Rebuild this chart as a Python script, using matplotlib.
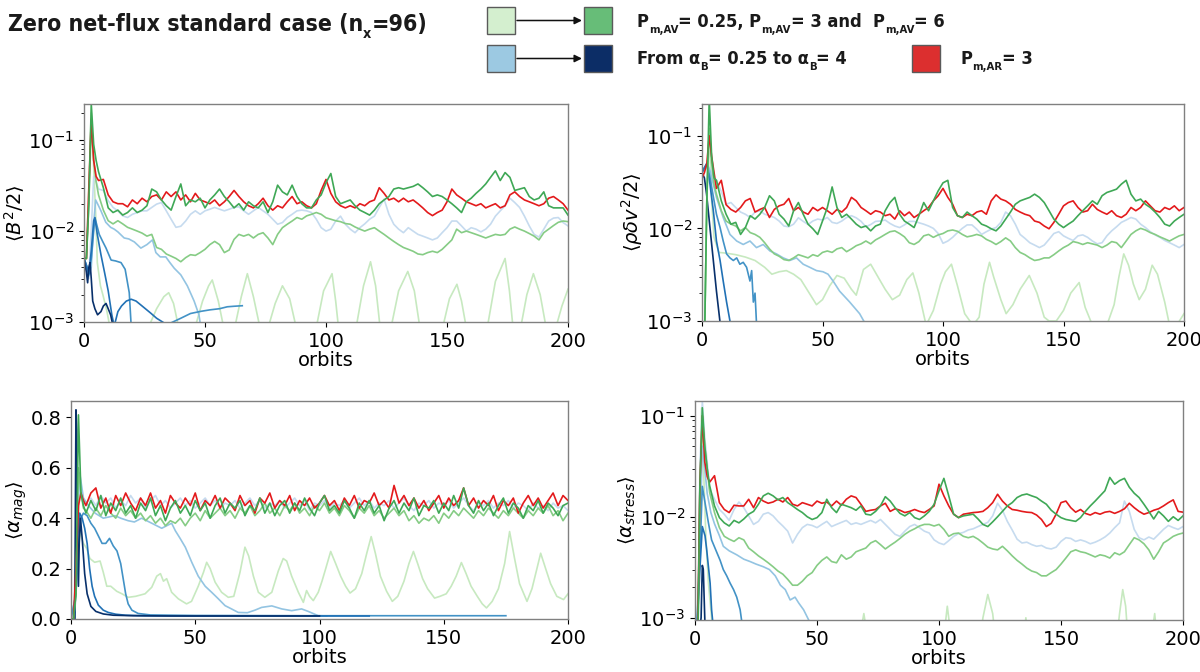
import os
import numpy as np
import matplotlib
matplotlib.use("Agg")
import matplotlib.pyplot as plt
from matplotlib import font_manager
from matplotlib.patches import Rectangle, FancyArrowPatch
from matplotlib.font_manager import FontProperties

# ---------------------------------------------------------------- time grids
T_SAT = [0, 1, 2, 3, 4, 5] + list(range(6, 201, 2))
X_TICKS = [0, 50, 100, 150, 200]
BL_YTICKS = [0.0, 0.2, 0.4, 0.6, 0.8]

# ---------------------------------------------------------------- colours
C_G1, C_G2, C_G3 = '#c7e9c0', '#86cc85', '#3fa856'
C_B1, C_B2, C_B3, C_B4, C_B5 = '#c6dbef', '#93c4e2', '#4292c6', '#2171b5', '#08306b'
C_R = '#e31a1c'

# ================================================================ <B^2/2>
tl_red = [0.005, 0.005, 0.03, 0.17, 0.06, 0.04,
          0.036, 0.037, 0.025, 0.021, 0.020, 0.020, 0.0185, 0.022, 0.020, 0.023,
          0.021, 0.024, 0.025, 0.022, 0.027, 0.024, 0.027, 0.022, 0.025, 0.021,
          0.026, 0.022, 0.021, 0.020, 0.022, 0.019, 0.021, 0.024, 0.028, 0.024,
          0.021, 0.019, 0.018, 0.020, 0.023, 0.019, 0.017, 0.019, 0.018, 0.021,
          0.024, 0.020, 0.021, 0.019, 0.018, 0.020, 0.028, 0.037, 0.026, 0.021,
          0.019, 0.018, 0.019, 0.018, 0.020, 0.019, 0.021, 0.022, 0.030, 0.026,
          0.022, 0.023, 0.021, 0.023, 0.021, 0.022, 0.020, 0.018, 0.016, 0.0148,
          0.016, 0.017, 0.021, 0.029, 0.025, 0.023, 0.021, 0.020, 0.019, 0.020,
          0.018, 0.019, 0.020, 0.018, 0.019, 0.025, 0.027, 0.024, 0.022, 0.021,
          0.020, 0.019, 0.020, 0.023, 0.024, 0.022, 0.020, 0.017]
tl_g3 = [0.005, 0.005, 0.02, 0.25, 0.09, 0.06,
         0.045, 0.03, 0.018, 0.016, 0.017, 0.015, 0.016, 0.018, 0.016, 0.017,
         0.019, 0.029, 0.027, 0.022, 0.019, 0.017, 0.024, 0.033, 0.019, 0.022,
         0.021, 0.023, 0.018, 0.022, 0.025, 0.029, 0.024, 0.021, 0.018, 0.020,
         0.017, 0.021, 0.019, 0.018, 0.021, 0.016, 0.021, 0.032, 0.027, 0.025,
         0.032, 0.024, 0.020, 0.018, 0.018, 0.022, 0.025, 0.034, 0.043, 0.024,
         0.020, 0.021, 0.022, 0.019, 0.017, 0.016, 0.015, 0.017, 0.020, 0.022,
         0.024, 0.029, 0.030, 0.029, 0.030, 0.031, 0.033, 0.030, 0.027, 0.024,
         0.025, 0.024, 0.022, 0.020, 0.018, 0.016, 0.021, 0.023, 0.026, 0.029,
         0.033, 0.039, 0.046, 0.036, 0.044, 0.039, 0.028, 0.029, 0.030, 0.024,
         0.022, 0.023, 0.027, 0.019, 0.018, 0.018, 0.018, 0.015]
tl_g2 = [0.005, 0.005, 0.02, 0.15, 0.06, 0.035,
         0.025, 0.017, 0.013, 0.012, 0.013, 0.012, 0.011, 0.0105, 0.010, 0.0095,
         0.0088, 0.0092, 0.0066, 0.0063, 0.0056, 0.0053, 0.0050, 0.0046, 0.0051, 0.0055,
         0.0054, 0.0058, 0.0063, 0.0071, 0.0077, 0.0071, 0.0058, 0.0062, 0.0081, 0.0092,
         0.0088, 0.0092, 0.0084, 0.0092, 0.0096, 0.0084, 0.0071, 0.0092, 0.0109, 0.0119,
         0.0129, 0.0141, 0.0135, 0.0147, 0.0153, 0.016, 0.0153, 0.014, 0.0135, 0.013,
         0.0127, 0.0121, 0.0119, 0.0111, 0.0105, 0.010, 0.0105, 0.0109, 0.010, 0.0092,
         0.0084, 0.0077, 0.0071, 0.0066, 0.0063, 0.0060, 0.0056, 0.0055, 0.0058, 0.0060,
         0.0058, 0.0063, 0.0071, 0.0080, 0.0105, 0.0096, 0.010, 0.0096, 0.0092, 0.0088,
         0.0084, 0.0088, 0.0092, 0.009, 0.0092, 0.0105, 0.0111, 0.0105, 0.010, 0.0094,
         0.0088, 0.008, 0.0096, 0.0105, 0.0115, 0.0125, 0.0129, 0.0127]
tl_b1 = [0.005, 0.004, 0.003, 0.01, 0.04, 0.035,
         0.029, 0.028, 0.0216, 0.0182, 0.0167, 0.0147, 0.0141, 0.0153, 0.016, 0.0167,
         0.0167, 0.0182, 0.0198, 0.0206, 0.0167, 0.0135, 0.011, 0.0113, 0.0129, 0.0153,
         0.0167, 0.0153, 0.0167, 0.0174, 0.0182, 0.0174, 0.0167, 0.0174, 0.0182, 0.0185,
         0.0167, 0.0153, 0.0167, 0.0182, 0.0167, 0.0153, 0.0135, 0.0119, 0.0124, 0.0141,
         0.0153, 0.0167, 0.017, 0.0167, 0.016, 0.0135, 0.0109, 0.010, 0.0105, 0.0129,
         0.0146, 0.0119, 0.0105, 0.0096, 0.0109, 0.012, 0.0135, 0.0146, 0.0182, 0.0225,
         0.0153, 0.0119, 0.0105, 0.0096, 0.0109, 0.010, 0.0092, 0.0088, 0.0084, 0.008,
         0.0084, 0.0096, 0.0109, 0.0129, 0.0129, 0.0114, 0.010, 0.0109, 0.0105, 0.0098,
         0.0105, 0.0119, 0.0146, 0.0167, 0.019, 0.023, 0.0206, 0.0182, 0.0146, 0.0114,
         0.0092, 0.0086, 0.0105, 0.0129, 0.0139, 0.0141, 0.0124, 0.0114]
tl_g1_t = [0, 1, 2, 3, 4, 5, 5.5, 6.8, 8, 9.5, 11,
           26, 30, 33, 35, 37, 39,
           45.5, 49, 51.5, 53, 55.5, 58,
           62, 65, 67.5, 70, 73,
           75.7, 79, 82, 85, 88,
           95.7, 99, 102.5, 104, 105.3,
           112.2, 115.5, 118.4, 120.5, 122.5,
           126.6, 130, 133.8, 136.5, 139,
           147.9, 151, 154.1, 156, 158.2,
           166.4, 170, 174, 175.8, 177.4,
           180.2, 183, 185.7, 188.5, 191.2,
           194.6, 197.5, 200]
tl_g1 = [0.005, 0.005, 0.03, 0.2, 0.05, 0.012, 0.0045, 0.0025, 0.0019, 0.0013, 0.0008,
         0.0008, 0.0014, 0.0019, 0.0021, 0.0016, 0.0009,
         0.0008, 0.0017, 0.0025, 0.0029, 0.0017, 0.0008,
         0.0008, 0.0019, 0.0034, 0.0019, 0.0008,
         0.0008, 0.0016, 0.0025, 0.0018, 0.0008,
         0.0008, 0.0022, 0.0034, 0.0017, 0.0008,
         0.0008, 0.0025, 0.0046, 0.0025, 0.0008,
         0.0008, 0.0022, 0.0036, 0.0022, 0.0008,
         0.0008, 0.0018, 0.0026, 0.0017, 0.0008,
         0.0008, 0.0028, 0.005, 0.0022, 0.0008,
         0.0008, 0.002, 0.0034, 0.002, 0.0008,
         0.0008, 0.0015, 0.0023]
tl_b2_t = [0, 1, 2, 3, 4, 4.8, 6, 7, 9, 11, 12.5, 14, 16.6, 18.5, 20.8, 23.5, 26, 28.3,
           29.7, 31.5, 33.8, 35.5, 37.3, 40, 42.7, 45.5, 47.5, 48.5]
tl_b2 = [0.005, 0.0042, 0.0032, 0.004, 0.012, 0.022, 0.019, 0.0167, 0.0125, 0.011, 0.0105,
         0.0098, 0.0084, 0.0082, 0.0076, 0.0065, 0.0071, 0.008, 0.0058, 0.0052, 0.0052,
         0.0045, 0.0039, 0.0033, 0.0025, 0.0017, 0.0012, 0.0008]
tl_b3_t = [0, 1, 2, 3, 4.5, 6.3, 7.7, 9.1, 11.2, 13, 15.3, 17, 18.7, 19.4, 20,
           34, 36, 40, 44, 48.3, 52, 56, 59.2, 62, 65.4]
tl_b3 = [0.005, 0.0042, 0.0033, 0.005, 0.0141, 0.0092, 0.0077, 0.0065, 0.0048, 0.0047,
         0.0045, 0.0038, 0.0021, 0.001, 0.0006,
         0.0006, 0.00098, 0.0011, 0.00124, 0.00131, 0.00136, 0.0014, 0.00147, 0.00149, 0.00151]
tl_b4_t = [0, 1, 2, 3, 4, 4.5, 5.5, 7, 8.5, 10, 11.5, 12.5, 13, 14, 15.5, 17.5, 19.5, 21.5,
           24, 27.6, 30, 33, 34.5]
tl_b4 = [0.005, 0.0042, 0.0034, 0.006, 0.013, 0.014, 0.0092, 0.0055, 0.0035, 0.0022, 0.0012,
         0.0009, 0.00102, 0.0013, 0.0015, 0.0017, 0.00178, 0.0017, 0.0015, 0.00125, 0.0011,
         0.00098, 0.0008]
tl_b5_t = [0, 1, 1.5, 2, 2.5, 3, 3.6, 4.5, 5.6, 7, 8, 9.1, 10, 11, 12]
tl_b5 = [0.005, 0.0035, 0.0027, 0.004, 0.0045, 0.003, 0.0017, 0.0014, 0.0012, 0.0013,
         0.0015, 0.0016, 0.0014, 0.0012, 0.0009]

# ================================================================ <rho dv^2/2>
tr_red = [0.035, 0.04, 0.05, 0.1, 0.06, 0.04,
          0.027, 0.033, 0.018, 0.016, 0.015, 0.0168, 0.0198, 0.021, 0.015, 0.016,
          0.0168, 0.0131, 0.016, 0.0175, 0.0182, 0.021, 0.0155, 0.0168, 0.015, 0.0142,
          0.0168, 0.0155, 0.0168, 0.0155, 0.0142, 0.016, 0.015, 0.0168, 0.0216, 0.0198,
          0.0168, 0.0155, 0.0142, 0.0155, 0.015, 0.0137, 0.0142, 0.0126, 0.0155, 0.0137,
          0.015, 0.0131, 0.0142, 0.0155, 0.0168, 0.0198, 0.0225, 0.027, 0.0216, 0.0182,
          0.0137, 0.0131, 0.0142, 0.0137, 0.015, 0.0155, 0.0142, 0.0198, 0.023, 0.0207,
          0.0198, 0.0182, 0.016, 0.015, 0.0142, 0.0137, 0.012, 0.0116, 0.0106, 0.0099,
          0.0116, 0.0142, 0.0175, 0.019, 0.0198, 0.0168, 0.015, 0.0155, 0.0182, 0.016,
          0.015, 0.0142, 0.0155, 0.0137, 0.0131, 0.0142, 0.0168, 0.0155, 0.0168, 0.0198,
          0.0175, 0.0155, 0.015, 0.0168, 0.016, 0.0175, 0.0155, 0.0168]
tr_g3 = [0.0005, 0.0005, 0.02, 0.25, 0.06, 0.035,
         0.033, 0.0198, 0.0142, 0.0111, 0.0116, 0.0086, 0.0102, 0.0137, 0.0126, 0.0142,
         0.0168, 0.0225, 0.0198, 0.0142, 0.0126, 0.0106, 0.0155, 0.019, 0.0142, 0.0111,
         0.0099, 0.0086, 0.012, 0.0168, 0.028, 0.0168, 0.0131, 0.0142, 0.0126, 0.0111,
         0.0102, 0.0106, 0.0094, 0.0106, 0.0111, 0.0155, 0.019, 0.0216, 0.0142, 0.012,
         0.0111, 0.0102, 0.0137, 0.019, 0.0155, 0.0198, 0.0254, 0.031, 0.033, 0.0168,
         0.0137, 0.0131, 0.015, 0.0137, 0.0126, 0.0111, 0.0106, 0.0099, 0.0094, 0.0106,
         0.0126, 0.015, 0.0182, 0.0198, 0.0207, 0.0216, 0.0234, 0.0216, 0.019, 0.0155,
         0.0126, 0.0111, 0.0102, 0.0111, 0.012, 0.0137, 0.0155, 0.0175, 0.0198, 0.0182,
         0.0225, 0.0244, 0.0254, 0.0265, 0.030, 0.033, 0.0234, 0.0198, 0.0207, 0.0182,
         0.0168, 0.015, 0.0131, 0.0111, 0.0106, 0.012, 0.0131, 0.0142]
tr_g2 = [0.0005, 0.0005, 0.02, 0.12, 0.05, 0.03,
         0.0234, 0.0155, 0.012, 0.0111, 0.0106, 0.0094, 0.0102, 0.009, 0.0086, 0.008,
         0.007, 0.006, 0.0053, 0.005, 0.0046, 0.0045, 0.0048, 0.0052, 0.005, 0.0048,
         0.0052, 0.005, 0.0055, 0.0057, 0.0055, 0.006, 0.0062, 0.0056, 0.006, 0.0065,
         0.0068, 0.0073, 0.0068, 0.0075, 0.008, 0.0086, 0.0092, 0.0094, 0.0088, 0.0081,
         0.007, 0.0067, 0.0072, 0.0083, 0.0086, 0.008, 0.0085, 0.0088, 0.0094, 0.0096,
         0.0093, 0.0086, 0.0081, 0.0083, 0.0086, 0.0083, 0.0076, 0.0072, 0.0067, 0.0072,
         0.0079, 0.0073, 0.0062, 0.0055, 0.0052, 0.0048, 0.0045, 0.0046, 0.0048, 0.0048,
         0.0052, 0.0057, 0.0062, 0.0066, 0.0072, 0.007, 0.0067, 0.007, 0.0068, 0.0066,
         0.0062, 0.0066, 0.0072, 0.007, 0.0062, 0.0073, 0.0086, 0.0094, 0.01, 0.0096,
         0.009, 0.0086, 0.0081, 0.0077, 0.0073, 0.0078, 0.0083, 0.0086]
tr_b1 = [0.04, 0.045, 0.05, 0.045, 0.04, 0.035,
         0.033, 0.025, 0.0182, 0.019, 0.0168, 0.015, 0.0142, 0.0131, 0.015, 0.0155,
         0.0142, 0.0137, 0.0131, 0.012, 0.0106, 0.0104, 0.0111, 0.013, 0.0119, 0.011,
         0.012, 0.0126, 0.0123, 0.0131, 0.0116, 0.0113, 0.012, 0.0131, 0.0137, 0.013,
         0.0119, 0.0104, 0.011, 0.0119, 0.012, 0.0123, 0.0113, 0.0106, 0.0102, 0.0109,
         0.0119, 0.0119, 0.0115, 0.0111, 0.0106, 0.01, 0.0088, 0.0069, 0.0073, 0.008,
         0.009, 0.01, 0.0109, 0.0109, 0.0098, 0.0086, 0.0092, 0.0098, 0.0102, 0.0116,
         0.015, 0.0137, 0.0111, 0.0086, 0.0078, 0.007, 0.0066, 0.0062, 0.0066, 0.0076,
         0.0088, 0.0092, 0.0083, 0.0078, 0.0074, 0.0083, 0.0085, 0.008, 0.0073, 0.0068,
         0.007, 0.0083, 0.0094, 0.0104, 0.0116, 0.0123, 0.0131, 0.0126, 0.0111, 0.0102,
         0.0092, 0.0085, 0.008, 0.0074, 0.007, 0.0066, 0.0062, 0.0067]
tr_g1_t = [0, 1, 2, 3, 4, 5, 7, 10, 14, 18,
           22, 26, 29, 32, 35, 38, 41, 44, 47.5, 50,
           53, 56, 59, 62, 64, 67, 70, 73, 76, 79,
           82, 85, 87.5, 90, 93, 96, 99, 101, 103.5, 106,
           109, 112.4, 115, 117, 119.3, 121, 124, 126.2, 129, 132,
           135.8, 139, 142, 144, 147, 150, 153, 156.5, 159, 162,
           165, 168, 171, 173, 175, 177, 179, 181.4, 184, 186.8,
           189, 192, 194, 197, 200]
tr_g1 = [0.0005, 0.0005, 0.02, 0.12, 0.02, 0.008, 0.0055, 0.0054, 0.0052, 0.0049,
         0.0045, 0.0038, 0.0032, 0.0034, 0.0035, 0.0032, 0.0028, 0.0021, 0.0015, 0.0017,
         0.0024, 0.0031, 0.0029, 0.0022, 0.0019, 0.0036, 0.0041, 0.003, 0.0022, 0.0017,
         0.0019, 0.0028, 0.0033, 0.002, 0.0009, 0.0013, 0.0025, 0.0034, 0.0041, 0.0024,
         0.0012, 0.0009, 0.0011, 0.0025, 0.0043, 0.003, 0.0017, 0.0012, 0.0015, 0.0022,
         0.0031, 0.002, 0.0011, 0.001, 0.001, 0.0013, 0.002, 0.0026, 0.0014, 0.0009,
         0.0008, 0.0009, 0.0015, 0.003, 0.0053, 0.004, 0.0025, 0.0017, 0.0022, 0.004,
         0.0032, 0.0016, 0.0009, 0.0009, 0.0012]
tr_b2_t = [0, 1, 2, 3.3, 6, 8.8, 11.6, 14.4, 17.1, 19.9, 22.6, 25.4, 28.2, 30.9, 33.7,
           36.4, 39.2, 42, 44.7, 47.5, 50.2, 52.3, 54.4, 57.1, 61.3, 65.4, 67.5, 69]
tr_b2 = [0.04, 0.045, 0.05, 0.042, 0.0216, 0.0131, 0.0086, 0.0073, 0.0067, 0.0073, 0.0062,
         0.0067, 0.0057, 0.0053, 0.0048, 0.0045, 0.0048, 0.0041, 0.0038, 0.0035, 0.0034,
         0.0032, 0.0027, 0.0021, 0.0016, 0.0012, 0.00096, 0.0008]
tr_b3_t = [0, 1, 2, 3.3, 4.7, 6, 7.5, 8.8, 10.2, 11.6, 13, 14.4, 15.7, 17.1, 18.5, 19.9,
           20.6, 21.3, 22, 22.6, 23.2]
tr_b3 = [0.04, 0.045, 0.05, 0.0355, 0.022, 0.0142, 0.0102, 0.0073, 0.0053, 0.0048, 0.0045,
         0.0048, 0.0041, 0.0043, 0.0038, 0.0027, 0.0035, 0.0016, 0.002, 0.00096, 0.0008]
tr_b4_t = [0, 1, 2, 3.3, 4.7, 6, 7.5, 8.8, 10.2, 11.6, 12.5]
tr_b4 = [0.04, 0.045, 0.05, 0.03, 0.0155, 0.0073, 0.0045, 0.0027, 0.0016, 0.001, 0.0008]
tr_b5_t = [0, 1, 1.9, 3.3, 4.7, 6, 7.5, 8]
tr_b5 = [0.04, 0.035, 0.0234, 0.0102, 0.0045, 0.0021, 0.00096, 0.0008]

# ================================================================ <alpha_mag>
bl_red = [0, 0, 0.2, 0.45, 0.5, 0.47,
          0.45, 0.50, 0.52, 0.44, 0.48, 0.42, 0.49, 0.45, 0.50, 0.46,
          0.43, 0.48, 0.45, 0.50, 0.44, 0.47, 0.42, 0.49, 0.46, 0.44,
          0.48, 0.45, 0.50, 0.43, 0.47, 0.45, 0.49, 0.44, 0.48, 0.46,
          0.43, 0.49, 0.45, 0.47, 0.42, 0.48, 0.46, 0.50, 0.44, 0.47,
          0.45, 0.49, 0.43, 0.47, 0.45, 0.48, 0.44, 0.46, 0.49, 0.45,
          0.47, 0.43, 0.48, 0.45, 0.49, 0.44, 0.47, 0.46, 0.50, 0.45,
          0.47, 0.44, 0.53, 0.46, 0.49, 0.45, 0.48, 0.44, 0.47, 0.43,
          0.46, 0.49, 0.44, 0.48, 0.45, 0.47, 0.52, 0.45, 0.48, 0.44,
          0.47, 0.45, 0.49, 0.43, 0.47, 0.45, 0.48, 0.42, 0.46, 0.49,
          0.45, 0.48, 0.44, 0.47, 0.50, 0.45, 0.49, 0.47]
bl_g3 = [0, 0, 0.1, 0.81, 0.5, 0.45,
         0.42, 0.47, 0.43, 0.49, 0.41, 0.46, 0.43, 0.48, 0.42, 0.45,
         0.40, 0.46, 0.43, 0.48, 0.41, 0.45, 0.39, 0.44, 0.47, 0.42,
         0.45, 0.41, 0.47, 0.43, 0.46, 0.40, 0.45, 0.48, 0.42, 0.46,
         0.44, 0.47, 0.41, 0.45, 0.43, 0.48, 0.42, 0.46, 0.41, 0.45,
         0.47, 0.42, 0.46, 0.43, 0.48, 0.44, 0.41, 0.46, 0.49, 0.43,
         0.45, 0.42, 0.47, 0.44, 0.40, 0.46, 0.43, 0.47, 0.42, 0.45,
         0.39, 0.44, 0.47, 0.42, 0.46, 0.43, 0.48, 0.41, 0.45, 0.44,
         0.47, 0.42, 0.46, 0.43, 0.49, 0.44, 0.52, 0.45, 0.42, 0.47,
         0.43, 0.46, 0.41, 0.45, 0.48, 0.42, 0.46, 0.44, 0.40, 0.45,
         0.43, 0.47, 0.42, 0.46, 0.44, 0.41, 0.45, 0.46]
bl_g2 = [0, 0, 0.1, 0.6, 0.5, 0.44,
         0.43, 0.40, 0.44, 0.41, 0.45, 0.42, 0.40, 0.44, 0.41, 0.43,
         0.40, 0.42, 0.39, 0.41, 0.38, 0.40, 0.37, 0.39, 0.38, 0.40,
         0.37, 0.40, 0.42, 0.39, 0.43, 0.40, 0.42, 0.44, 0.41, 0.43,
         0.40, 0.44, 0.42, 0.45, 0.41, 0.43, 0.46, 0.42, 0.44, 0.41,
         0.45, 0.43, 0.46, 0.42, 0.44, 0.41, 0.45, 0.43, 0.46, 0.42,
         0.44, 0.41, 0.45, 0.43, 0.40, 0.44, 0.42, 0.45, 0.41, 0.43,
         0.40, 0.42, 0.44, 0.41, 0.43, 0.39, 0.41, 0.38, 0.40, 0.39,
         0.41, 0.38, 0.42, 0.40, 0.43, 0.41, 0.44, 0.42, 0.40, 0.43,
         0.41, 0.44, 0.42, 0.40, 0.43, 0.41, 0.44, 0.42, 0.40, 0.43,
         0.41, 0.44, 0.42, 0.45, 0.41, 0.43, 0.39, 0.42]
bl_b1 = [0, 0, 0.3, 0.58, 0.5, 0.47,
         0.46, 0.48, 0.45, 0.49, 0.46, 0.48, 0.44, 0.47, 0.45, 0.49,
         0.46, 0.48, 0.44, 0.47, 0.49, 0.45, 0.47, 0.44, 0.46, 0.48,
         0.45, 0.47, 0.44, 0.46, 0.48, 0.45, 0.47, 0.44, 0.46, 0.45,
         0.47, 0.44, 0.46, 0.48, 0.45, 0.47, 0.44, 0.46, 0.45, 0.47,
         0.44, 0.46, 0.48, 0.45, 0.47, 0.43, 0.46, 0.45, 0.47, 0.44,
         0.46, 0.45, 0.47, 0.44, 0.46, 0.48, 0.45, 0.47, 0.44, 0.46,
         0.45, 0.47, 0.44, 0.46, 0.48, 0.45, 0.43, 0.46, 0.45, 0.47,
         0.44, 0.46, 0.45, 0.47, 0.44, 0.46, 0.48, 0.45, 0.43, 0.46,
         0.45, 0.47, 0.44, 0.46, 0.45, 0.47, 0.44, 0.46, 0.45, 0.43,
         0.46, 0.44, 0.45, 0.43, 0.46, 0.44, 0.45, 0.43]
bl_g1_t = [0, 1.5, 2.3, 2.7, 3.2, 4, 5, 6.3, 7.6, 9.5,
           11.7, 13, 14.4, 16, 18.4, 20.5, 23, 26, 29.8, 32.5,
           34.5, 36, 37.2, 38.5, 40.5, 43.2, 46.5, 48.5, 51.2, 53.3,
           54.6, 56, 58, 60.6, 63.3, 65.5, 68, 70, 71.5, 73.4,
           75.4, 78, 80.8, 83.4, 85.4, 86.8, 88.8, 91.5, 93.5, 94.8,
           96, 97.5, 99.5, 101, 102.5, 104.5, 106.5, 108.5, 110.5, 112.3,
           114.5, 117, 119, 120.8, 122.5, 124.5, 127, 129.3, 131.5, 134,
           136, 137.8, 139.5, 141.5, 143.5, 146.3, 148.5, 151, 153, 155,
           157.1, 159, 161, 163.5, 165.5, 167.2, 169.5, 172, 174.5, 176.5,
           178.5, 180.5, 183.5, 185.5, 187.5, 189, 191, 193, 195.5, 198.2,
           200]
bl_g1 = [0, 0, 0.3, 0.55, 0.4, 0.33, 0.3, 0.28, 0.24, 0.225,
         0.23, 0.185, 0.13, 0.13, 0.11, 0.1, 0.086, 0.09, 0.1, 0.126,
         0.17, 0.18, 0.15, 0.16, 0.106, 0.08, 0.06, 0.07, 0.13, 0.185,
         0.225, 0.2, 0.146, 0.106, 0.086, 0.09, 0.185, 0.285, 0.25, 0.17,
         0.106, 0.086, 0.106, 0.19, 0.24, 0.23, 0.17, 0.106, 0.066, 0.113,
         0.09, 0.073, 0.106, 0.15, 0.2, 0.268, 0.22, 0.17, 0.13, 0.103,
         0.12, 0.18, 0.26, 0.327, 0.26, 0.17, 0.11, 0.07, 0.09, 0.15,
         0.22, 0.268, 0.22, 0.16, 0.12, 0.083, 0.09, 0.1, 0.13, 0.17,
         0.224, 0.18, 0.13, 0.09, 0.06, 0.044, 0.07, 0.12, 0.22, 0.347,
         0.24, 0.14, 0.07, 0.12, 0.2, 0.261, 0.2, 0.14, 0.09, 0.077,
         0.1]
bl_b2_t = [0, 2, 3, 3.5, 5, 7, 9.7, 13, 17.7, 20, 23, 25.5, 28.4, 32.5, 36.5, 38.5, 40.5,
           42, 43.9, 46, 48.6, 51.2, 54, 56.6, 59.3, 62, 64.6, 67.3, 71, 74, 76.7, 80.8,
           84.8, 88.8, 92.8, 95.5, 99.5, 103]
bl_b2 = [0, 0.1, 0.45, 0.58, 0.48, 0.45, 0.42, 0.4, 0.41, 0.4, 0.39, 0.385, 0.4, 0.38, 0.36,
         0.37, 0.38, 0.35, 0.32, 0.285, 0.225, 0.17, 0.13, 0.106, 0.08, 0.053, 0.04, 0.026,
         0.025, 0.035, 0.046, 0.052, 0.04, 0.033, 0.04, 0.03, 0.013, 0.012]
bl_b3_t = [0, 2, 3, 4, 5, 6.5, 8, 9.5, 11, 12.5, 14, 15.5, 17, 18.5, 20, 21, 22, 23, 24.5,
           27, 32, 50, 100, 175]
bl_b3 = [0, 0.1, 0.3, 0.4, 0.42, 0.41, 0.38, 0.36, 0.33, 0.3, 0.3, 0.32, 0.29, 0.27, 0.22,
         0.16, 0.1, 0.06, 0.035, 0.022, 0.016, 0.014, 0.013, 0.013]
bl_b4_t = [0, 1.5, 2.5, 3.5, 4.5, 5.5, 6.5, 7.5, 8.5, 9.5, 11, 13, 15, 18, 22, 30, 50, 80, 120]
bl_b4 = [0, 0, 0.3, 0.42, 0.4, 0.36, 0.3, 0.2, 0.13, 0.09, 0.055, 0.035, 0.026, 0.019, 0.015,
         0.013, 0.012, 0.012, 0.012]
bl_b5_t = [0, 1.5, 2, 2.3, 2.6, 3, 3.3, 3.8, 4.5, 5.5, 6.5, 8, 10, 13, 17, 25, 40, 60, 100]
bl_b5 = [0, 0, 0.83, 0.75, 0.3, 0.13, 0.3, 0.4, 0.32, 0.18, 0.1, 0.05, 0.03, 0.02, 0.015,
         0.013, 0.012, 0.012, 0.012]

# ================================================================ <alpha_stress>
br_red = [0.0005, 0.0005, 0.02, 0.1, 0.035, 0.025,
          0.022, 0.0255, 0.0138, 0.0118, 0.011, 0.013, 0.0128, 0.0128, 0.0149, 0.0123,
          0.0155, 0.0143, 0.0136, 0.014, 0.0149, 0.014, 0.0155, 0.0133, 0.0128, 0.0138,
          0.0133, 0.0128, 0.0143, 0.0136, 0.014, 0.0128, 0.0143, 0.013, 0.0149, 0.0161,
          0.0155, 0.0133, 0.0113, 0.0116, 0.0118, 0.0128, 0.0136, 0.0113, 0.012, 0.0116,
          0.011, 0.0113, 0.0118, 0.0113, 0.011, 0.0118, 0.0128, 0.021, 0.0161, 0.0128,
          0.0106, 0.0098, 0.0106, 0.0108, 0.011, 0.0111, 0.0113, 0.0123, 0.0138, 0.0167,
          0.0143, 0.0128, 0.0118, 0.0116, 0.0113, 0.0111, 0.011, 0.0104, 0.0094, 0.008,
          0.0086, 0.0106, 0.0138, 0.0143, 0.0123, 0.0111, 0.0118, 0.0108, 0.0104, 0.011,
          0.0106, 0.0111, 0.0113, 0.0108, 0.0113, 0.012, 0.0136, 0.0123, 0.0113, 0.0106,
          0.011, 0.0116, 0.012, 0.0128, 0.0138, 0.0147, 0.0113, 0.0111]
br_g3 = [0.0003, 0.0003, 0.02, 0.12, 0.05, 0.03,
         0.0203, 0.0128, 0.0098, 0.0087, 0.0081, 0.0092, 0.0087, 0.0095, 0.0106, 0.0113,
         0.0133, 0.0161, 0.0171, 0.0161, 0.0147, 0.0155, 0.0138, 0.0128, 0.0118, 0.011,
         0.01, 0.0094, 0.0098, 0.011, 0.0149, 0.0123, 0.011, 0.0133, 0.0128, 0.0123,
         0.0116, 0.0128, 0.0106, 0.0104, 0.0113, 0.0128, 0.0158, 0.0143, 0.0123, 0.0108,
         0.0102, 0.011, 0.0098, 0.0094, 0.0102, 0.0113, 0.0133, 0.0181, 0.024, 0.0161,
         0.0106, 0.0098, 0.0102, 0.0104, 0.0106, 0.0095, 0.0084, 0.008, 0.0089, 0.01,
         0.0113, 0.0128, 0.0138, 0.0155, 0.0164, 0.0168, 0.0161, 0.0155, 0.0143, 0.0133,
         0.0116, 0.0106, 0.0098, 0.0094, 0.0092, 0.009, 0.0098, 0.0113, 0.0128, 0.0143,
         0.0161, 0.0181, 0.0245, 0.021, 0.0228, 0.024, 0.0196, 0.0171, 0.0155, 0.0133,
         0.0113, 0.0095, 0.0113, 0.0102, 0.009, 0.01, 0.0092, 0.0102]
br_g2 = [0.0003, 0.0003, 0.02, 0.1, 0.05, 0.03,
         0.0174, 0.011, 0.0078, 0.0064, 0.006, 0.0057, 0.0062, 0.0059, 0.0049, 0.0045,
         0.0041, 0.0038, 0.0035, 0.0032, 0.0029, 0.0027, 0.0024, 0.0021, 0.0021, 0.0023,
         0.0026, 0.0028, 0.0033, 0.0037, 0.004, 0.0036, 0.0035, 0.0042, 0.0038, 0.004,
         0.0045, 0.0047, 0.0049, 0.0055, 0.0058, 0.0053, 0.0048, 0.0052, 0.0056, 0.0061,
         0.0067, 0.0072, 0.0076, 0.0081, 0.0084, 0.0084, 0.0081, 0.0084, 0.0075, 0.0064,
         0.0068, 0.0069, 0.0064, 0.0062, 0.0064, 0.006, 0.0055, 0.005, 0.0048, 0.0047,
         0.0051, 0.0046, 0.0041, 0.0037, 0.0034, 0.0031, 0.0029, 0.0028, 0.0026, 0.0026,
         0.0028, 0.003, 0.0034, 0.0039, 0.0045, 0.0047, 0.0045, 0.0044, 0.0042, 0.004,
         0.0042, 0.0041, 0.0039, 0.0044, 0.0042, 0.0045, 0.0053, 0.0062, 0.0059, 0.0054,
         0.0047, 0.0038, 0.0045, 0.0055, 0.0059, 0.0064, 0.0067, 0.0069]
br_b1 = [0.0003, 0.0003, 0.03, 0.14, 0.06, 0.035,
         0.0188, 0.0149, 0.0118, 0.0106, 0.0092, 0.0118, 0.014, 0.0123, 0.0102, 0.0084,
         0.009, 0.0106, 0.011, 0.0102, 0.009, 0.0081, 0.0072, 0.0055, 0.0067, 0.0078,
         0.0084, 0.0082, 0.0078, 0.0084, 0.009, 0.008, 0.0084, 0.0088, 0.0092, 0.0084,
         0.0087, 0.0084, 0.0088, 0.0092, 0.0087, 0.0094, 0.0084, 0.0075, 0.0067, 0.0064,
         0.0072, 0.008, 0.0084, 0.0078, 0.0072, 0.0069, 0.0059, 0.0055, 0.0053, 0.0058,
         0.0064, 0.0068, 0.007, 0.0074, 0.0076, 0.008, 0.0084, 0.0088, 0.0102, 0.0136,
         0.0116, 0.009, 0.0074, 0.006, 0.0055, 0.0056, 0.0053, 0.0051, 0.0052, 0.0049,
         0.0048, 0.005, 0.0057, 0.0062, 0.0061, 0.0057, 0.0059, 0.0057, 0.0054, 0.0056,
         0.0059, 0.0063, 0.0069, 0.0078, 0.0087, 0.0143, 0.0113, 0.0075, 0.0062, 0.0059,
         0.0063, 0.006, 0.0067, 0.0075, 0.0082, 0.0078, 0.0075, 0.008]
br_g1_t = [0, 1, 2, 2.7, 3.5, 4.5, 5.5, 6.8, 8, 9,
           66, 69.2, 72, 101, 103.4, 106, 116, 118, 120, 122,
           124, 134, 135.6, 137, 172, 174, 175.3, 176.5, 178, 186,
           188.4, 190, 200]
br_g1 = [0.0003, 0.0003, 0.01, 0.12, 0.03, 0.006, 0.0022, 0.001, 0.0005, 0.0004,
         0.0004, 0.0011, 0.0004, 0.0004, 0.0013, 0.0004, 0.0004, 0.001, 0.0017, 0.0011,
         0.0004, 0.0004, 0.001, 0.0004, 0.0004, 0.0011, 0.0019, 0.0013, 0.0004, 0.0004,
         0.0011, 0.0004, 0.0004]
br_b2_t = [0, 2, 3, 4, 5, 6.5, 8, 10, 11.6, 14, 17.1, 20, 22.6, 25, 28, 30.5, 32.9, 35,
           37, 39, 41, 42.5, 44.5, 46.6, 47.5]
br_b2 = [0.0003, 0.005, 0.05, 0.03, 0.017, 0.011, 0.0085, 0.0065, 0.0051, 0.0046, 0.0042,
         0.0038, 0.0036, 0.0034, 0.0032, 0.003, 0.0026, 0.0021, 0.0019, 0.0015, 0.0016,
         0.0014, 0.0012, 0.00095, 0.0008]
br_b3_t = [0, 2, 3, 4.1, 5.5, 6.8, 8.5, 10.3, 11.6, 13, 14.4, 15.8, 17.1, 18.5, 19.5]
br_b3 = [0.0003, 0.004, 0.02, 0.0138, 0.0087, 0.0059, 0.0047, 0.0037, 0.003, 0.0026,
         0.0022, 0.0019, 0.0016, 0.0012, 0.0008]
br_b4_t = [0, 2, 3, 4.1, 4.8, 5.5, 6.2, 6.8, 7.5]
br_b4 = [0.0003, 0.003, 0.008, 0.0065, 0.0047, 0.0032, 0.0022, 0.0012, 0.0008]
br_b5_t = [0, 2.5, 3, 3.4, 4, 4.5]
br_b5 = [0.0003, 0.001, 0.0033, 0.003, 0.001, 0.0005]

# ---------------------------------------------------------------- text
TITLE_SEGS = [("Zero net-flux standard case (n", 0), ("x", 1), ("=96)", 0)]
LEG1_SEGS = [("P", 0), ("m,AV", 1), ("= 0.25, P", 0), ("m,AV", 1), ("= 3 and  P", 0),
             ("m,AV", 1), ("= 6", 0)]
LEG2_SEGS = [("From \u03b1", 0), ("B", 1), ("= 0.25 to \u03b1", 0), ("B", 1), ("= 4", 0)]
LEG3_SEGS = [("P", 0), ("m,AR", 1), ("= 3", 0)]
YLABELS = [r'$\langle B^2/2\rangle$', r'$\langle \rho\delta v^2/2\rangle$',
           r'$\langle \alpha_{mag}\rangle$', r'$\langle \alpha_{stress}\rangle$']

# ================================================================ figure
W, H = 1200, 672
plt.rcParams['font.family'] = ['DejaVu Sans']
fig = plt.figure(figsize=(W / 100, H / 100), dpi=100)


def px_axes(l, t, r, b):
    return fig.add_axes([l / W, 1 - b / H, (r - l) / W, (b - t) / H])


def chk(t, v, name):
    assert len(t) == len(v), f"{name}: {len(t)} vs {len(v)}"
    return t, v


panels = [
    dict(rect=(84, 104, 568, 322), log=True, ylim=(1e-3, 0.25), ylabel=YLABELS[0],
         series=[(tl_g1_t, tl_g1, C_G1), (T_SAT, tl_b1, C_B1), (tl_b2_t, tl_b2, C_B2),
                 (tl_b3_t, tl_b3, C_B3), (tl_b4_t, tl_b4, C_B4), (tl_b5_t, tl_b5, C_B5),
                 (T_SAT, tl_g2, C_G2), (T_SAT, tl_red, C_R), (T_SAT, tl_g3, C_G3)]),
    dict(rect=(702, 104, 1184, 321), log=True, ylim=(1e-3, 0.22), ylabel=YLABELS[1],
         series=[(tr_g1_t, tr_g1, C_G1), (T_SAT, tr_b1, C_B1), (tr_b2_t, tr_b2, C_B2),
                 (tr_b3_t, tr_b3, C_B3), (tr_b4_t, tr_b4, C_B4), (tr_b5_t, tr_b5, C_B5),
                 (T_SAT, tr_g2, C_G2), (T_SAT, tr_red, C_R), (T_SAT, tr_g3, C_G3)]),
    dict(rect=(71, 401, 568, 619), log=False, ylim=(0, 0.865), ylabel=YLABELS[2],
         series=[(bl_g1_t, bl_g1, C_G1), (T_SAT, bl_b1, C_B1), (bl_b2_t, bl_b2, C_B2),
                 (bl_b3_t, bl_b3, C_B3), (bl_b4_t, bl_b4, C_B4), (bl_b5_t, bl_b5, C_B5),
                 (T_SAT, bl_g2, C_G2), (T_SAT, bl_red, C_R), (T_SAT, bl_g3, C_G3)]),
    dict(rect=(695, 401, 1183, 620), log=True, ylim=(9.5e-4, 0.14), ylabel=YLABELS[3],
         series=[(br_g1_t, br_g1, C_G1), (T_SAT, br_b1, C_B1), (br_b2_t, br_b2, C_B2),
                 (br_b3_t, br_b3, C_B3), (br_b4_t, br_b4, C_B4), (br_b5_t, br_b5, C_B5),
                 (T_SAT, br_g2, C_G2), (T_SAT, br_red, C_R), (T_SAT, br_g3, C_G3)]),
]

for pi, p in enumerate(panels):
    ax = px_axes(*p['rect'])
    for si, (t, v, c) in enumerate(p['series']):
        chk(t, v, f"panel{pi}-series{si}")
        ax.plot(t, v, color=c, lw=1.2, solid_joinstyle='round')
    if p['log']:
        ax.set_yscale('log')
    else:
        ax.set_yticks(BL_YTICKS)
        ax.set_yticklabels([f"{y:.1f}" for y in BL_YTICKS])
    ax.set_ylim(*p['ylim'])
    ax.set_xlim(0, 200)
    ax.set_xticks(X_TICKS)
    ax.set_xlabel('orbits', fontsize=14, labelpad=0)
    ax.set_ylabel(p['ylabel'], fontsize=14, labelpad=1)
    ax.tick_params(labelsize=14)
    for s in ax.spines.values():
        s.set_color('#808080')
        s.set_linewidth(1.0)

# ---------------------------------------------------------------- header font
def find_condensed_bold():
    prefs = ['dejavusanscondensed-bold.ttf', 'liberationsansnarrow-bold.ttf',
             'robotocondensed-bold.ttf', 'notosans-condensedbold.ttf',
             'opensans-condensedbold.ttf', 'opensans_condensed-bold.ttf']
    files = {os.path.basename(f.fname).lower(): f.fname
             for f in font_manager.fontManager.ttflist}
    for p in prefs:
        if p in files:
            return files[p]
    for name, path in files.items():
        if ('condensed' in name or 'narrow' in name) and 'bold' in name \
                and 'semi' not in name and 'extra' not in name and 'italic' not in name \
                and 'oblique' not in name:
            return path
    return None


_cond = find_condensed_bold()
if _cond:
    fp_bold = FontProperties(fname=_cond)
else:
    fp_bold = FontProperties(family='DejaVu Sans', weight='bold')

renderer = fig.canvas.get_renderer()
SUB_SCALE = 0.62


def measure(segs, size):
    total = 0.0
    for s, kind in segs:
        fs = size if kind == 0 else size * SUB_SCALE
        t = fig.text(0, 0, s, fontproperties=fp_bold, fontsize=fs)
        total += t.get_window_extent(renderer).width
        t.remove()
    return total


def draw_segs(x_px, base_px, segs, size, color='#1a1a1a'):
    x = x_px
    for s, kind in segs:
        fs = size if kind == 0 else size * SUB_SCALE
        yoff = 0 if kind == 0 else size * 0.32 * 100 / 72
        t = fig.text(x / W, 1 - (base_px + yoff) / H, s, fontproperties=fp_bold,
                     fontsize=fs, va='baseline', ha='left', color=color)
        x += t.get_window_extent(renderer).width
    return x


title_size = min(10 * 417 / measure(TITLE_SEGS, 10), 19)
draw_segs(8, 31, TITLE_SEGS, title_size)

leg_size = min(10 * 308 / measure(LEG1_SEGS, 10), 15)
draw_segs(637, 27, LEG1_SEGS, leg_size)
draw_segs(637, 64, LEG2_SEGS, leg_size)
draw_segs(960, 64, LEG3_SEGS, leg_size)


def box(x0, y0, x1, y1, color):
    fig.add_artist(Rectangle((x0 / W, 1 - y1 / H), (x1 - x0) / W, (y1 - y0) / H,
                             transform=fig.transFigure, facecolor=color,
                             edgecolor='#5a5a5a', lw=1.0))


def arrow(x0, x1, yc):
    fig.add_artist(FancyArrowPatch((x0 / W, 1 - yc / H), (x1 / W, 1 - yc / H),
                                   transform=fig.transFigure, arrowstyle='-|>',
                                   mutation_scale=11, color='#111111', lw=1.1,
                                   shrinkA=0, shrinkB=0))


box(487, 7, 515, 34, '#d4efcf')
arrow(517, 582, 20.5)
box(584, 7, 612, 34, '#67bd78')
box(487, 45, 515, 72, '#9cc9e2')
arrow(517, 582, 58.5)
box(584, 45, 612, 72, '#0c2d66')
box(912, 45, 940, 72, '#dc2f2f')

fig.savefig('out.png', dpi=100)
